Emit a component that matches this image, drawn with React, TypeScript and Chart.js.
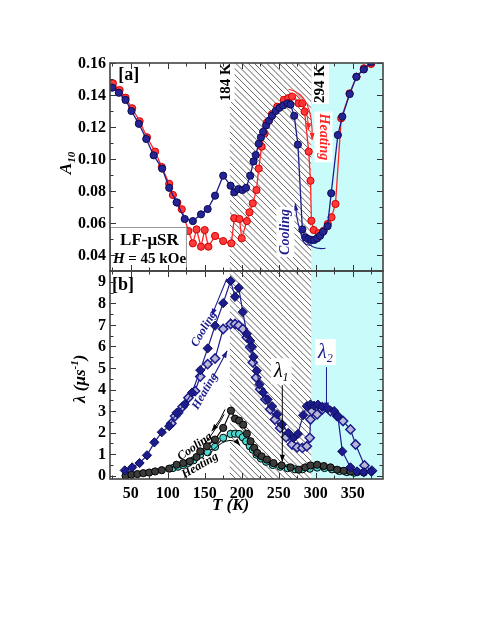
import React, { useEffect, useRef } from 'react';
import { Chart, registerables } from 'chart.js';

Chart.register(...registerables);

// ---------- Panel [a] : A10 vs T ----------
const T_A_COOL = [25, 34, 43, 51, 61, 71, 81, 92.5, 102, 112, 123, 134, 145, 154, 164, 175, 185, 190, 195.5, 201, 206, 211.5, 216, 219, 223, 226, 229, 233, 237, 241, 246, 251, 256, 262, 266, 271, 276, 282, 286, 290, 294, 298, 302, 306, 310, 316, 321, 330, 336, 346, 355, 365, 375];
const A_COOL = [0.1446, 0.1414, 0.1369, 0.130, 0.122, 0.1125, 0.1023, 0.0940, 0.082, 0.0729, 0.0625, 0.0612, 0.0654, 0.0687, 0.0771, 0.0896, 0.0833, 0.0792, 0.0812, 0.0806, 0.082, 0.0896, 0.0985, 0.1025, 0.1095, 0.1135, 0.117, 0.121, 0.124, 0.127, 0.130, 0.132, 0.1335, 0.1348, 0.134, 0.127, 0.109, 0.056, 0.051, 0.050, 0.0494, 0.0494, 0.0504, 0.052, 0.0545, 0.058, 0.0786, 0.115, 0.1265, 0.1406, 0.1514, 0.156, 0.1605];

const T_A_HEAT = [26, 35, 43, 52, 62, 72, 83, 92, 102, 107, 113, 119, 128, 134, 139, 145, 150, 155, 164, 175, 186, 190, 197, 200, 207, 210.5, 215, 220, 223, 227, 231, 234, 241, 248, 257, 263, 268, 277, 282, 285, 290.6, 293, 294.2, 297.4, 304, 311, 316.4, 321.4, 326.8, 334.5, 345.8, 355.3, 365.2, 375];
const A_HEAT = [0.1473, 0.1431, 0.1383, 0.1317, 0.1236, 0.1136, 0.1046, 0.095, 0.0845, 0.0775, 0.0727, 0.0686, 0.055, 0.0473, 0.056, 0.0452, 0.0556, 0.0452, 0.0519, 0.0487, 0.0473, 0.063, 0.0625, 0.0504, 0.0612, 0.0667, 0.0723, 0.0806, 0.094, 0.1077, 0.116, 0.1227, 0.128, 0.1327, 0.1369, 0.138, 0.139, 0.1348, 0.1348, 0.1296, 0.1046, 0.0864, 0.0614, 0.0556, 0.0536, 0.0552, 0.0594, 0.0636, 0.0719, 0.1254, 0.141, 0.1514, 0.1567, 0.1594];

// ---------- Panel [b] : lambda vs T ----------
const T_L2_COOL = [42, 52, 62, 72, 82, 92, 102, 112, 123, 133, 144, 154, 164, 175, 185, 191, 196, 201.5, 207, 211.5, 214, 216, 220.5, 224, 229, 235, 241, 248, 254.5, 263, 270, 276, 283, 288, 293, 298, 303, 309, 316, 325, 330, 336, 347, 356, 365, 375];
const L2_COOL = [0.25, 0.39, 0.59, 0.95, 1.55, 2.02, 2.3, 2.92, 3.31, 3.86, 4.9, 5.91, 6.96, 8.01, 9.04, 8.3, 8.72, 7.6, 6.58, 6.26, 5.98, 5.52, 4.87, 4.24, 3.86, 3.54, 3.23, 2.85, 2.38, 1.99, 1.76, 1.94, 2.81, 3.23, 3.31, 3.25, 3.3, 3.2, 3.12, 3.0, 2.77, 1.13, 0.39, 0.2, 0.17, 0.2];

const T_L2_HEAT = [105, 110, 114, 120, 128, 137, 144, 154, 164, 175, 185, 191, 196, 201.5, 207, 211.5, 215, 219.6, 225, 232, 238.6, 245, 252, 260, 268, 275, 282, 288, 292, 293, 295, 302, 309, 320, 329, 337, 347, 354, 366, 376];
const L2_HEAT = [2.43, 2.77, 2.92, 3.2, 3.62, 3.93, 4.6, 5.18, 5.44, 6.81, 7.04, 7.04, 6.97, 6.81, 6.42, 5.96, 5.26, 4.56, 4.01, 3.54, 3.08, 2.61, 2.22, 1.79, 1.45, 1.32, 1.29, 1.37, 1.76, 2.61, 3.0, 2.85, 3.08, 3.0, 2.77, 2.54, 2.15, 1.45, 0.48, 0.23];

const T_L1_COOL = [43, 51, 59, 67, 75, 83, 92, 102, 112, 121, 130, 139, 144, 153, 164, 175, 185.5, 191, 196.5, 202, 207, 212, 217, 221, 227, 234, 243, 254, 266, 277, 286, 293, 302, 311, 320, 329, 338, 347, 356, 365];
const L1_COOL = [0.0, 0.05, 0.08, 0.12, 0.15, 0.2, 0.26, 0.33, 0.51, 0.59, 0.67, 0.87, 1.13, 1.37, 1.68, 2.22, 3.02, 2.65, 2.56, 2.37, 1.95, 1.6, 1.29, 1.06, 0.9, 0.75, 0.59, 0.48, 0.39, 0.28, 0.39, 0.48, 0.51, 0.45, 0.39, 0.28, 0.23, 0.2, 0.17, 0.15];

const T_L1_HEAT = [107, 114, 121, 128, 135, 144, 154, 164, 175, 185, 191, 196.5, 201.5, 206, 211, 215, 220, 226, 233, 242, 252, 262, 272, 282, 292, 302, 312, 322, 332, 342, 352];
const L1_HEAT = [0.36, 0.42, 0.5, 0.6, 0.72, 0.98, 1.09, 1.34, 1.76, 1.94, 1.95, 1.94, 1.79, 1.6, 1.37, 1.21, 0.98, 0.8, 0.65, 0.5, 0.42, 0.35, 0.3, 0.3, 0.33, 0.38, 0.36, 0.3, 0.22, 0.17, 0.14];

// ---------- Axes ----------
const X_MIN = 22;
const X_MAX = 391;
const X_TICKS = [50, 100, 150, 200, 250, 300, 350];
const X_MINOR_STEP = 25;
const YA_MIN = 0.03;
const YA_MAX = 0.16;
const YA_TICKS = [0.04, 0.06, 0.08, 0.10, 0.12, 0.14, 0.16];
const YA_MINOR_STEP = 0.01;
const YB_MIN = -0.15;
const YB_MAX = 9.5;
const YB_TICKS = [0, 1, 2, 3, 4, 5, 6, 7, 8, 9];
const YB_MINOR_STEP = 0.5;

const HATCH_FROM = 184;
const CYAN_FROM = 294;

const SERIF = '"Liberation Serif", "Times New Roman", serif';
const NAVY = '#1c1c8e';
const RED = '#ff2424';

function pts(xs: number[], ys: number[]) {
  return xs.map((x, i) => ({ x, y: ys[i] }));
}

function drawText(ctx: any, str: string, x: number, y: number, font: string, color: string, rot = 0, bg = false, pad = 2) {
  ctx.save();
  ctx.translate(x, y);
  ctx.rotate((rot * Math.PI) / 180);
  ctx.font = font;
  ctx.textAlign = 'center';
  ctx.textBaseline = 'middle';
  if (bg) {
    const w = ctx.measureText(str).width;
    const m = font.match(/(\d+)px/);
    const h = m ? parseFloat(m[1]) : 12;
    ctx.fillStyle = '#fff';
    ctx.fillRect(-w / 2 - pad, -h / 2 - pad, w + 2 * pad, h + 2 * pad);
  }
  ctx.fillStyle = color;
  ctx.fillText(str, 0, 0);
  ctx.restore();
}

function drawRich(ctx: any, parts: { t: string; font: string; dy: number }[], x: number, y: number, rot: number, color: string, base = 5, bg = false) {
  ctx.save();
  ctx.translate(x, y);
  ctx.rotate((rot * Math.PI) / 180);
  ctx.textBaseline = 'alphabetic';
  ctx.textAlign = 'left';
  let w = 0;
  const ws = parts.map((p) => {
    ctx.font = p.font;
    const ww = ctx.measureText(p.t).width;
    w += ww;
    return ww;
  });
  if (bg) {
    ctx.fillStyle = '#fff';
    ctx.fillRect(-w / 2 - 3, -13, w + 6, 26);
  }
  ctx.fillStyle = color;
  let cx = -w / 2;
  parts.forEach((p, i) => {
    ctx.font = p.font;
    ctx.fillText(p.t, cx, base + p.dy);
    cx += ws[i];
  });
  ctx.restore();
}

function arrow(ctx: any, p0: number[], c: number[] | null, p1: number[], color: string, width = 1, head = true) {
  ctx.save();
  ctx.strokeStyle = color;
  ctx.fillStyle = color;
  ctx.lineWidth = width;
  ctx.beginPath();
  ctx.moveTo(p0[0], p0[1]);
  if (c) ctx.quadraticCurveTo(c[0], c[1], p1[0], p1[1]);
  else ctx.lineTo(p1[0], p1[1]);
  ctx.stroke();
  if (head) {
    const from = c || p0;
    const a = Math.atan2(p1[1] - from[1], p1[0] - from[0]);
    const L = 7;
    const W = 2.6;
    const ca = Math.cos(a);
    const sa = Math.sin(a);
    ctx.beginPath();
    ctx.moveTo(p1[0], p1[1]);
    ctx.lineTo(p1[0] - L * ca + W * sa, p1[1] - L * sa - W * ca);
    ctx.lineTo(p1[0] - L * ca - W * sa, p1[1] - L * sa + W * ca);
    ctx.closePath();
    ctx.fill();
  }
  ctx.restore();
}

const decor = {
  id: 'decor',
  beforeDatasetsDraw(chart: any) {
    const { ctx, chartArea } = chart;
    const xs = chart.scales.x;
    const top = chartArea.top;
    const bottom = chartArea.bottom;
    const h = bottom - top;
    const xc = xs.getPixelForValue(CYAN_FROM);
    const xh = xs.getPixelForValue(HATCH_FROM);
    ctx.save();
    ctx.fillStyle = '#c9fbfb';
    ctx.fillRect(xc, top, chartArea.right - xc, h);
    ctx.beginPath();
    ctx.rect(xh, top, xc - xh, h);
    ctx.clip();
    ctx.strokeStyle = '#3a3a3a';
    ctx.lineWidth = 0.8;
    ctx.beginPath();
    for (let s = xh - h; s < xc + 2; s += 6.2) {
      ctx.moveTo(s, top);
      ctx.lineTo(s + h, bottom);
    }
    ctx.stroke();
    ctx.restore();
  },
  afterDatasetsDraw(chart: any) {
    const { ctx, chartArea } = chart;
    const xs = chart.scales.x;
    const ya = chart.scales.yA;
    const yb = chart.scales.yB;
    const A = (t: number, v: number) => [xs.getPixelForValue(t), ya.getPixelForValue(v)];
    const B = (t: number, v: number) => [xs.getPixelForValue(t), yb.getPixelForValue(v)];

    // panel labels
    const pa = A(47.3, 0.1525);
    drawText(ctx, '[a]', pa[0], pa[1], `bold 18px ${SERIF}`, '#000');
    const pb = B(39.5, 8.82);
    drawText(ctx, '[b]', pb[0], pb[1], `bold 18px ${SERIF}`, '#000');
    // temperature markers
    const p184 = A(178.9, 0.148);
    drawText(ctx, '184 K', p184[0], p184[1], `bold 15px ${SERIF}`, '#000', -90, true, 1);
    const p294 = A(306.4, 0.1469);
    drawText(ctx, '294 K', p294[0], p294[1], `bold 15px ${SERIF}`, '#000', -90, true, 1);

    // LF-muSR box
    const bx0 = chartArea.left;
    const bxy = A(126, 0.0575);
    ctx.save();
    ctx.fillStyle = '#fff';
    ctx.strokeStyle = '#999';
    ctx.lineWidth = 1;
    ctx.fillRect(bx0, bxy[1], bxy[0] - bx0, ya.bottom - bxy[1]);
    ctx.strokeRect(bx0 + 0.5, bxy[1] + 0.5, bxy[0] - bx0 - 1, ya.bottom - bxy[1] - 1);
    ctx.restore();
    const cxb = (bx0 + bxy[0]) / 2 + 1;
    drawText(ctx, 'LF-μSR', cxb, bxy[1] + 14, `bold 17px ${SERIF}`, '#000');
    drawRich(ctx, [
      { t: 'H', font: `bold italic 15px ${SERIF}`, dy: 0 },
      { t: ' = 45 kOe', font: `bold 15px ${SERIF}`, dy: 0 },
    ], cxb, bxy[1] + 31, 0, '#000');

    // panel a arrows + labels
    arrow(ctx, A(263.4, 0.1436), A(297, 0.141), A(295.2, 0.1119), RED, 1.1);
    arrow(ctx, A(268.5, 0.1413), A(289, 0.137), A(290.5, 0.118), RED, 1.1);
    const ph = A(310.5, 0.1138);
    drawText(ctx, 'Heating', ph[0], ph[1], `bold italic 14px ${SERIF}`, RED, 90, true, 2);
    arrow(ctx, A(313.3, 0.0442), A(277, 0.0415), A(272.5, 0.0723), NAVY, 1.1);
    arrow(ctx, A(295.2, 0.0463), A(281, 0.0445), A(279.3, 0.0567), NAVY, 1.1, false);
    const pc = A(259, 0.0544);
    drawText(ctx, 'Cooling', pc[0], pc[1], `bold italic 14px ${SERIF}`, NAVY, -90, true, 2);

    // panel b navy arrows
    arrow(ctx, B(179.8, 9.14), null, B(159.5, 7.43), NAVY, 1.1);
    const pbc = B(149, 6.81);
    drawText(ctx, 'Cooling', pbc[0], pbc[1], `bold italic 12px ${SERIF}`, NAVY, -60);
    arrow(ctx, B(161.3, 4.57), null, B(180.3, 5.8), NAVY, 1.1);
    const pbh = B(150.4, 3.92);
    drawText(ctx, 'Heating', pbh[0], pbh[1], `bold italic 12px ${SERIF}`, NAVY, -60);

    // panel b black arrows
    arrow(ctx, B(177.5, 3.08), B(172, 2.6), B(159.5, 2.07), '#000', 1);
    arrow(ctx, B(150.4, 1.49), B(168, 2.3), B(176.2, 2.85), '#000', 1, false);
    arrow(ctx, B(154.5, 0.93), B(181.6, 2.05), B(197.9, 1.4), '#000', 1);
    const pkc = B(136.8, 1.35);
    drawText(ctx, 'Cooling', pkc[0], pkc[1], `bold italic 12px ${SERIF}`, '#000', -35);
    const pkh = B(143.6, 0.47);
    drawText(ctx, 'Heating', pkh[0], pkh[1], `bold italic 12px ${SERIF}`, '#000', -30);

    // lambda labels
    arrow(ctx, B(254.9, 4.2), null, B(254.9, 0.65), '#000', 1);
    const l1 = B(253.5, 4.85);
    drawRich(ctx, [
      { t: 'λ', font: `italic 20px ${SERIF}`, dy: 0 },
      { t: '1', font: `italic 12px ${SERIF}`, dy: 4 },
    ], l1[0], l1[1], 0, '#000', 6, true);
    arrow(ctx, B(314.6, 5.04), null, B(314.6, 3.08), NAVY, 1);
    const l2 = B(313.2, 5.74);
    drawRich(ctx, [
      { t: 'λ', font: `italic 20px ${SERIF}`, dy: 0 },
      { t: '2', font: `italic 12px ${SERIF}`, dy: 4 },
    ], l2[0], l2[1], 0, NAVY, 6, true);
  },
  afterDraw(chart: any) {
    const { ctx, chartArea } = chart;
    const xs = chart.scales.x;
    const ya = chart.scales.yA;
    const yb = chart.scales.yB;
    ctx.save();
    ctx.strokeStyle = '#333';
    ctx.lineWidth = 1;
    ctx.beginPath();
    const hLines = [
      [ya.top, 1], [ya.bottom, -1], [yb.top, 1], [yb.bottom, -1],
    ];
    for (let v = X_MINOR_STEP; v < X_MAX; v += X_MINOR_STEP) {
      if (v < X_MIN) continue;
      const major = v % 50 === 0;
      const len = major ? 6 : 3.5;
      const px = Math.round(xs.getPixelForValue(v)) + 0.5;
      hLines.forEach(([y, d]) => {
        ctx.moveTo(px, y);
        ctx.lineTo(px, y + d * len);
      });
    }
    const yTicks = (scale: any, min: number, max: number, step: number, majorEvery: number) => {
      const n = Math.round((max - min) / step);
      for (let i = 0; i <= n + 1; i++) {
        const v = Math.ceil(min / step - 1e-9) * step + i * step;
        if (v > max + 1e-9) break;
        const major = Math.abs(v / majorEvery - Math.round(v / majorEvery)) < 1e-6;
        const len = major ? 6 : 3.5;
        const py = Math.round(scale.getPixelForValue(v)) + 0.5;
        ctx.moveTo(chartArea.left, py);
        ctx.lineTo(chartArea.left + len, py);
        ctx.moveTo(chartArea.right, py);
        ctx.lineTo(chartArea.right - len, py);
      }
    };
    yTicks(ya, YA_MIN, YA_MAX, YA_MINOR_STEP, 0.02);
    yTicks(yb, YB_MIN, YB_MAX, YB_MINOR_STEP, 1);
    ctx.stroke();
    ctx.strokeStyle = '#444';
    ctx.lineWidth = 1.6;
    ctx.strokeRect(chartArea.left, ya.top, chartArea.right - chartArea.left, ya.bottom - ya.top);
    ctx.strokeRect(chartArea.left, yb.top, chartArea.right - chartArea.left, yb.bottom - yb.top);
    ctx.restore();

    // y tick labels
    const yLabels = (scale: any, fmt: (v: number) => string) => {
      ctx.save();
      ctx.font = `bold 16px ${SERIF}`;
      ctx.fillStyle = '#000';
      ctx.textAlign = 'right';
      ctx.textBaseline = 'middle';
      scale.ticks.forEach((t: any) => {
        const py = scale.getPixelForValue(t.value);
        ctx.fillText(fmt(t.value), chartArea.left - 4, py + 0.5);
      });
      ctx.restore();
    };
    yLabels(ya, (v) => v.toFixed(2));
    yLabels(yb, (v) => String(v));

    // axis titles
    drawRich(ctx, [
      { t: 'A', font: `bold italic 17px ${SERIF}`, dy: 0 },
      { t: '10', font: `bold italic 11px ${SERIF}`, dy: 4 },
    ], 66, (ya.top + ya.bottom) / 2 - 4, -90, '#000');
    drawRich(ctx, [
      { t: 'λ (μs', font: `bold italic 17px ${SERIF}`, dy: 0 },
      { t: '-1', font: `bold italic 11px ${SERIF}`, dy: -7 },
      { t: ')', font: `bold italic 17px ${SERIF}`, dy: 0 },
    ], 80, yb.getPixelForValue(4.5), -90, '#000');
    drawText(ctx, 'T (K)', xs.getPixelForValue(185), chartArea.bottom + 27, `bold italic 17px ${SERIF}`, '#000');
  },
};

export default function App() {
  const ref = useRef<HTMLCanvasElement | null>(null);
  useEffect(() => {
    if (!ref.current) return;
    const circle = (fill: string, border: string) => ({
      pointStyle: 'circle',
      pointRadius: 3.6,
      pointBackgroundColor: fill,
      pointBorderColor: border,
      pointBorderWidth: 1,
    });
    const chart = new Chart(ref.current, {
      type: 'line',
      data: {
        datasets: [
          { data: pts(T_A_COOL, A_COOL), yAxisID: 'yA', borderColor: NAVY, borderWidth: 1.3, ...circle('#242494', '#0b0b55'), order: 1 } as any,
          { data: pts(T_A_HEAT, A_HEAT), yAxisID: 'yA', borderColor: RED, borderWidth: 1.3, ...circle('#ff3a3a', '#d00000'), order: 2 } as any,
          { data: pts(T_L2_COOL, L2_COOL), yAxisID: 'yB', borderColor: NAVY, borderWidth: 1.2, pointStyle: 'rectRot', pointRadius: 4.6, pointBackgroundColor: NAVY, pointBorderColor: '#0b0b55', pointBorderWidth: 1, order: 3 } as any,
          { data: pts(T_L2_HEAT, L2_HEAT), yAxisID: 'yB', borderColor: NAVY, borderWidth: 1.2, pointStyle: 'rectRot', pointRadius: 4.6, pointBackgroundColor: '#b8b8d6', pointBorderColor: NAVY, pointBorderWidth: 1.5, order: 4 } as any,
          { data: pts(T_L1_COOL, L1_COOL), yAxisID: 'yB', borderColor: '#000', borderWidth: 1.1, ...circle('#3c3c3c', '#000'), order: 5 } as any,
          { data: pts(T_L1_HEAT, L1_HEAT), yAxisID: 'yB', borderColor: '#000', borderWidth: 1.1, ...circle('#4cd8d0', '#000'), order: 6 } as any,
        ],
      },
      options: {
        animation: false,
        responsive: false,
        maintainAspectRatio: false,
        devicePixelRatio: 1,
        layout: { padding: { left: 0, right: 108, top: 63, bottom: 106 } },
        plugins: { legend: { display: false }, tooltip: { enabled: false } },
        elements: { line: { tension: 0 } },
        scales: {
          x: {
            type: 'linear',
            position: 'bottom',
            min: X_MIN,
            max: X_MAX,
            grid: { display: false, drawTicks: false },
            border: { display: false },
            ticks: { font: { family: SERIF, weight: 'bold', size: 16 }, color: '#000', padding: 5, autoSkip: false, maxRotation: 0 },
            afterBuildTicks: (s: any) => { s.ticks = X_TICKS.map((v) => ({ value: v })); },
            afterFit: (s: any) => { s.height = 50; },
          },
          yB: {
            type: 'linear',
            position: 'left',
            stack: 'v',
            stackWeight: 1,
            min: YB_MIN,
            max: YB_MAX,
            grid: { display: false, drawTicks: false },
            border: { display: false },
            ticks: { display: false },
            afterBuildTicks: (s: any) => { s.ticks = YB_TICKS.map((v) => ({ value: v })); },
            afterFit: (s: any) => { s.width = 110; },
          },
          yA: {
            type: 'linear',
            position: 'left',
            stack: 'v',
            stackWeight: 1,
            min: YA_MIN,
            max: YA_MAX,
            grid: { display: false, drawTicks: false },
            border: { display: false },
            ticks: { display: false },
            afterBuildTicks: (s: any) => { s.ticks = YA_TICKS.map((v) => ({ value: v })); },
            afterFit: (s: any) => { s.width = 110; },
          },
        } as any,
      },
      plugins: [decor],
    });
    return () => chart.destroy();
  }, []);
  return (
    <div style={{ position: 'absolute', left: 0, top: 0, width: 491, height: 635, background: '#fff' }}>
      <canvas ref={ref} width={491} height={635} style={{ width: 491, height: 635 }} />
    </div>
  );
}
